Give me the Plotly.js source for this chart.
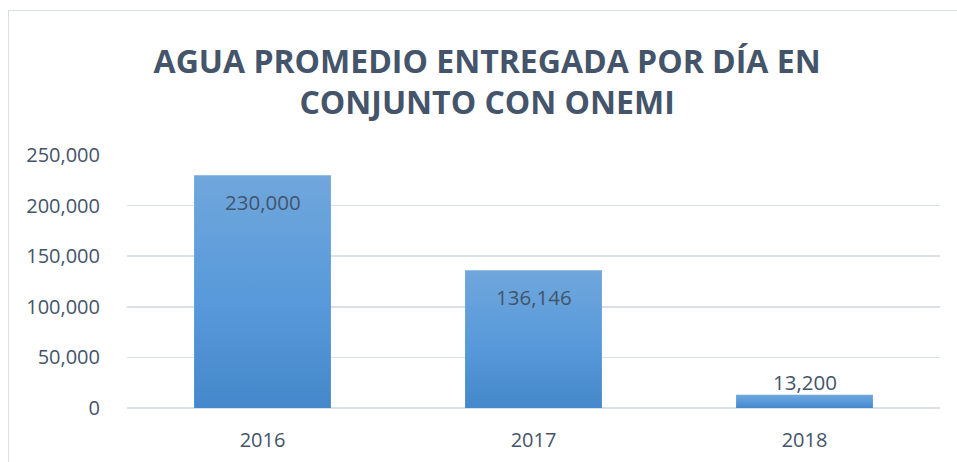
<!DOCTYPE html>
<html>
<head>
<meta charset="utf-8">
<script src="https://cdn.plot.ly/plotly-3.0.1.min.js"></script>
<style>
html,body{margin:0;padding:0;background:#fff;}
#wrap{position:relative;width:957px;height:462px;overflow:hidden;}
#chart{position:absolute;left:0;top:0;width:957px;height:462px;}
#frame{position:absolute;left:8px;top:10px;width:980px;height:500px;border-left:1.5px solid #DADFE7;border-top:1.5px solid #DADFE7;pointer-events:none;}
</style>
</head>
<body>
<div id="wrap"><div id="chart"></div><div id="frame"></div></div>
<script>
const years = ["2016", "2017", "2018"];
const water = [230000, 136146, 13200];
const labels = ["230,000", "136,146", "13,200"];
const labelInside = [true, true, false];
const titleText = "AGUA PROMEDIO ENTREGADA POR DÍA EN<br>CONJUNTO CON ONEMI";

const textColor = "#44546A";
const font = "Open Sans, sans-serif";

const trace = {
  type: "bar",
  x: years,
  y: water,
  marker: {color: "#5898D6", line: {width: 0}},
  hoverinfo: "skip"
};

const annotations = years.map((yr, i) => ({
  x: i, y: water[i], xref: "x", yref: "y",
  text: labels[i], showarrow: false,
  yanchor: "middle",
  yshift: labelInside[i] ? -27 : 13,
  font: {family: font, size: 20.5, color: textColor}
}));

const layout = {
  width: 957, height: 462,
  margin: {l: 127, r: 17, t: 155, b: 54},
  paper_bgcolor: "#fff", plot_bgcolor: "#fff",
  showlegend: false,
  bargap: 0.495,
  title: {
    text: titleText,
    x: 0.509, xanchor: "center", xref: "container",
    y: 0.843, yanchor: "middle", yref: "container",
    font: {family: font, size: 32, color: textColor, weight: "bold"}
  },
  xaxis: {
    type: "category",
    range: [-0.5, 2.5],
    showgrid: false, showline: false, zeroline: false,
    ticks: "outside", ticklen: 14, tickcolor: "rgba(0,0,0,0)",
    tickfont: {family: font, size: 20, color: textColor}
  },
  yaxis: {
    range: [0, 250000], dtick: 50000,
    tickformat: ",d",
    showgrid: true, gridcolor: "#DBDFE6", gridwidth: 1.5,
    zeroline: true, zerolinecolor: "#DBDFE6", zerolinewidth: 1.5,
    showline: false,
    ticks: "outside", ticklen: 22, tickcolor: "rgba(0,0,0,0)",
    tickfont: {family: font, size: 20, color: textColor}
  },
  annotations: annotations
};

Plotly.newPlot("chart", [trace], layout, {staticPlot: true, displayModeBar: false}).then(gd => {
  const svg = gd.querySelector("svg.main-svg");
  const ns = "http://www.w3.org/2000/svg";
  let defs = svg.querySelector("defs");
  if (!defs) { defs = document.createElementNS(ns, "defs"); svg.insertBefore(defs, svg.firstChild); }
  const grad = document.createElementNS(ns, "linearGradient");
  grad.setAttribute("id", "barGrad");
  grad.setAttribute("x1", "0"); grad.setAttribute("y1", "0");
  grad.setAttribute("x2", "0"); grad.setAttribute("y2", "1");
  [["0%", "#70A7DC"], ["55%", "#5799DA"], ["100%", "#4588CB"]].forEach(([o, c]) => {
    const s = document.createElementNS(ns, "stop");
    s.setAttribute("offset", o); s.setAttribute("stop-color", c);
    grad.appendChild(s);
  });
  defs.appendChild(grad);
  gd.querySelectorAll(".bars .point path").forEach(p => { p.style.fill = "url(#barGrad)"; });
});
</script>
</body>
</html>
